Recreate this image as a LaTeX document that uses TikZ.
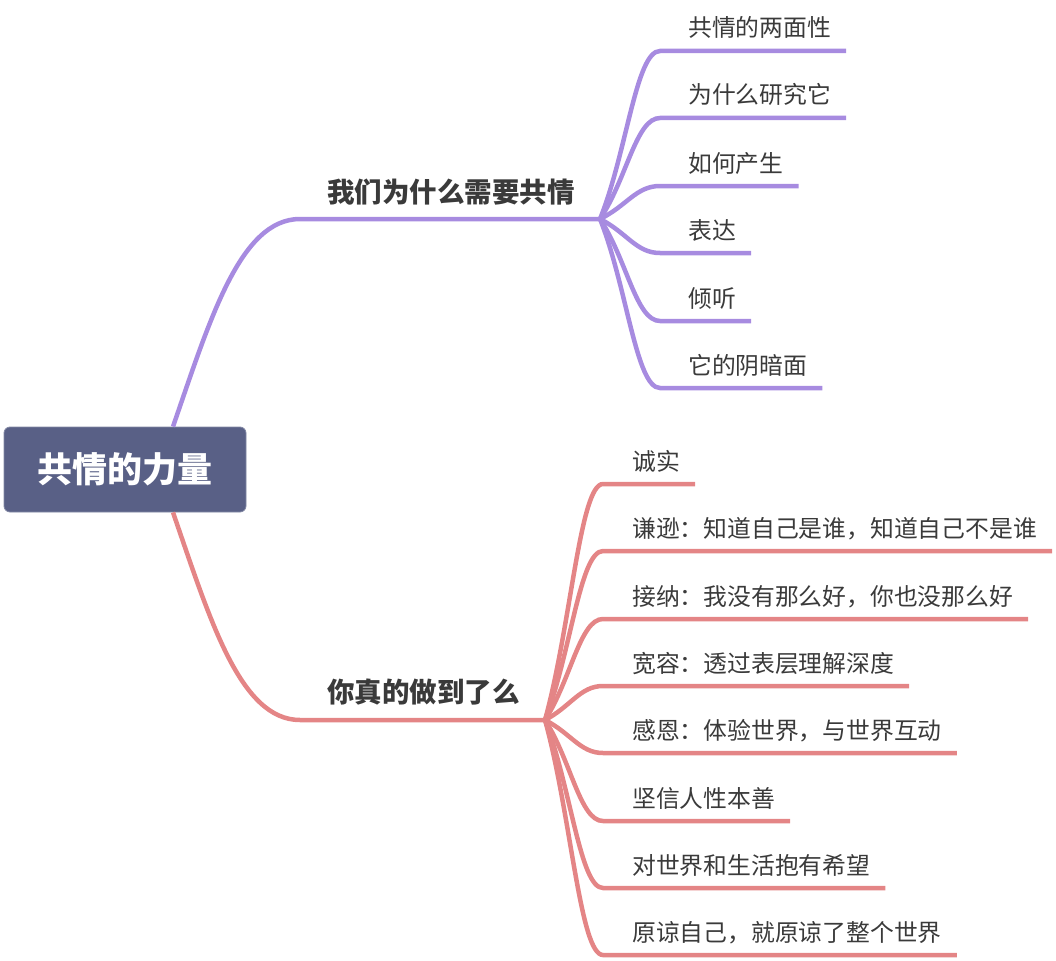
\documentclass[tikz,border=0pt]{standalone}
\usepackage{fontspec}
\setmainfont{Noto Sans CJK SC}
\usetikzlibrary{calc}
\definecolor{rootblue}{HTML}{596086}
\definecolor{whypurple}{HTML}{A78BE0}
\definecolor{dored}{HTML}{E48586}
\definecolor{textgray}{HTML}{3A3A3A}
\tikzset{
    rootnode/.style = {
        rectangle,
        rounded corners=6pt,
        fill=rootblue,
        draw=rootblue!75!white,
        line width=0.8pt,
        minimum width=242pt,
        minimum height=85pt,
        inner sep=0pt,
        text=white,
        font=\fontsize{35}{40}\selectfont\bfseries
    },
    branchnode/.style = {
        inner sep=0pt,
        anchor=base west,
        text=textgray,
        font=\fontsize{27.5}{32}\selectfont\bfseries
    },
    leafnode/.style = {
        inner sep=0pt,
        anchor=base west,
        text=textgray,
        font=\fontsize{23.8}{28}\selectfont
    },
    branchline/.style = {
        line width=4.5pt
    }
}
\begin{document}
\begin{tikzpicture}[x=1pt, y=-1pt]
    \useasboundingbox (0,0) rectangle (1056,960);
    \node [rootnode] (root) at (125,469.5) {共情的力量};

    \coordinate (why) at (300,219);
    \coordinate (whyfan) at (600,219);
    \node [branchnode] (whytext) at (327,202.5) {我们为什么需要共情};
    \draw [branchline, whypurple] ($(root.north)+(48,0)$) .. controls +(37,-107) and +(-60,0) .. (why) -- (whyfan);
    \foreach \y/\txt [count=\i] in {51/共情的两面性, 118/为什么研究它, 186/如何产生, 253/表达, 321/倾听, 388/它的阴暗面} {
        \coordinate (why\i) at (660,\y);
        \node [leafnode] (whyleaf\i) at (688,\y-14) {\txt};
        \draw [branchline, whypurple] (whyfan) .. controls +(27,{0.4*(\y-219)}) and +(-24,0) .. (why\i)
            -- (why\i -| whyleaf\i.east) -- ++(15,0);
    }

    \coordinate (do) at (300,720);
    \coordinate (dofan) at (545,720);
    \node [branchnode] (dotext) at (327,702.5) {你真的做到了么};
    \draw [branchline, dored] ($(root.south)+(48,0)$) .. controls +(37,107) and +(-60,0) .. (do) -- (dofan);
    \foreach \y/\txt [count=\i] in {484/诚实, 551/谦逊：知道自己是谁，知道自己不是谁, 619/接纳：我没有那么好，你也没那么好, 686/宽容：透过表层理解深度, 753/感恩：体验世界，与世界互动, 821/坚信人性本善, 888/对世界和生活抱有希望, 955/原谅自己，就原谅了整个世界} {
        \coordinate (do\i) at (603,\y);
        \node [leafnode] (doleaf\i) at (632,\y-14) {\txt};
        \draw [branchline, dored] (dofan) .. controls +(26,{0.4*(\y-720)}) and +(-23,0) .. (do\i)
            -- (do\i -| doleaf\i.east) -- ++(15,0);
    }
\end{tikzpicture}
\end{document}
